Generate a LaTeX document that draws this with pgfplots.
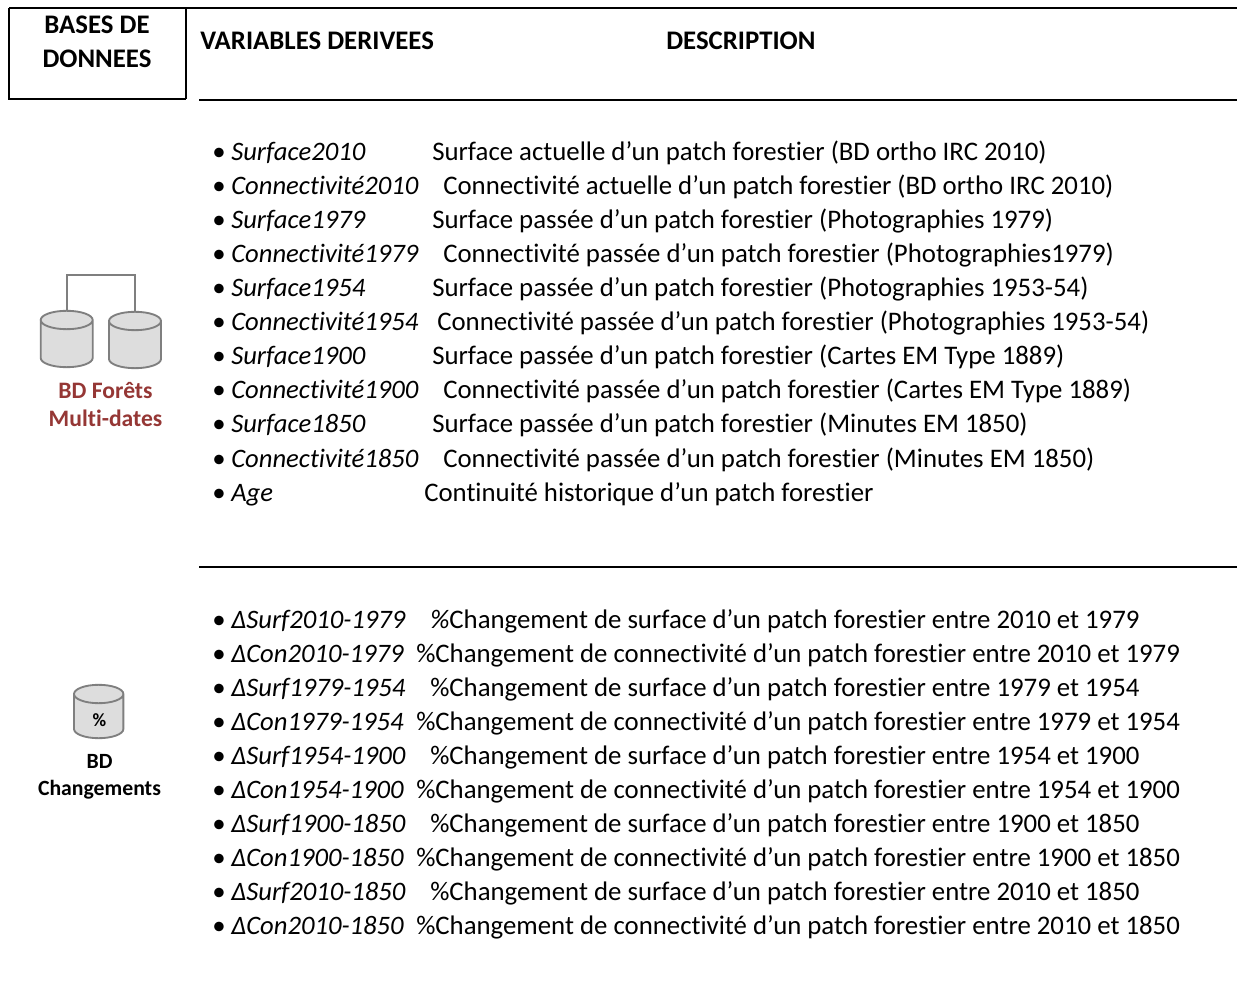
\documentclass[border=0pt]{standalone}
\usepackage{pgfplots}
\pgfplotsset{compat=1.18}
\usepackage{fontspec}
\setmainfont[Ligatures=NoCommon]{Carlito}
\definecolor{dbred}{HTML}{953735}
\definecolor{cylfill}{HTML}{DDDDDD}
\definecolor{cylline}{HTML}{7F7F7F}
\newcommand{\fs}{\fontsize{20.1}{22}\selectfont}
\newcommand{\row}[4]{% y, name, descx, desc
  \node[anchor=base west,inner sep=0pt] at (axis cs:212,#1) {\fs •};
  \node[anchor=base west,inner sep=0pt] at (axis cs:231,#1) {\fontsize{19.97}{22}\selectfont\itshape #2};
  \node[anchor=base west,inner sep=0pt] at (axis cs:#3,#1) {\fs #4};}
\newcommand{\cyl}[4]{% xleft, ycentre top, ycentre bottom, rx in px
  \draw[draw=cylline,fill=cylfill,line width=1.4pt]
    (axis cs:#1,#2) -- (axis cs:#1,#3)
    arc[start angle=180,end angle=360,x radius=#4*0.75pt,y radius=6.9pt]
    -- (axis cs:#1+2*#4,#2)
    arc[start angle=0,end angle=180,x radius=#4*0.75pt,y radius=6.9pt]
    arc[start angle=180,end angle=360,x radius=#4*0.75pt,y radius=6.9pt];}
\begin{document}
\begin{tikzpicture}
\path[use as bounding box] (0,0) rectangle (927.75pt,745.5pt);
\begin{axis}[at={(0,0)},anchor=south west,scale only axis,width=927.75pt,height=745.5pt,
  xmin=0,xmax=1237,ymin=0,ymax=994,y dir=reverse,axis lines=none,clip=false]
\addplot[black,line width=1.5pt] coordinates {(9,8) (1237,8)};
\addplot[black,line width=1.5pt] coordinates {(9,8) (9,99.5) (186,99.5)};
\addplot[black,line width=1.3pt] coordinates {(186,8) (186,99.5)};
\addplot[black,line width=1.5pt] coordinates {(199,100) (1237,100)};
\addplot[black,line width=1.5pt] coordinates {(199,567) (1237,567)};
\addplot[cylline,line width=1.5pt] coordinates {(66.5,312) (66.5,274.7) (135.3,274.7) (135.3,313)};
\node[inner sep=0pt,anchor=base] at (axis cs:97,34) {\fs\bfseries BASES DE};
\node[inner sep=0pt,anchor=base] at (axis cs:97,68) {\fs\bfseries DONNEES};
\node[anchor=base west,inner sep=0pt] at (axis cs:200,50) {\fs\bfseries VARIABLES DERIVEES};
\node[anchor=base west,inner sep=0pt] at (axis cs:666,50) {\fs\bfseries DESCRIPTION};
\row{161}{Surface2010}{432}{Surface actuelle d’un patch forestier (BD ortho IRC 2010)}
\row{195}{Connectivité2010}{443}{Connectivité actuelle d’un patch forestier (BD ortho IRC 2010)}
\row{229}{Surface1979}{432}{Surface passée d’un patch forestier (Photographies 1979)}
\row{263}{Connectivité1979}{443}{Connectivité passée d’un patch forestier (Photographies1979)}
\row{297}{Surface1954}{432}{Surface passée d’un patch forestier (Photographies 1953-54)}
\row{331}{Connectivité1954}{437}{Connectivité passée d’un patch forestier (Photographies 1953-54)}
\row{365}{Surface1900}{432}{Surface passée d’un patch forestier (Cartes EM Type 1889)}
\row{399}{Connectivité1900}{443}{Connectivité passée d’un patch forestier (Cartes EM Type 1889)}
\row{433}{Surface1850}{432}{Surface passée d’un patch forestier (Minutes EM 1850)}
\row{467}{Connectivité1850}{443}{Connectivité passée d’un patch forestier (Minutes EM 1850)}
\row{501}{Age}{424}{Continuité historique d’un patch forestier}
\row{628}{ΔSurf2010-1979}{430}{{\itshape\%}Changement de surface d’un patch forestier entre 2010 et 1979}
\row{662}{ΔCon2010-1979}{416}{\%Changement de connectivité d’un patch forestier entre 2010 et 1979}
\row{696}{ΔSurf1979-1954}{430}{\%Changement de surface d’un patch forestier entre 1979 et 1954}
\row{730}{ΔCon1979-1954}{416}{\%Changement de connectivité d’un patch forestier entre 1979 et 1954}
\row{764}{ΔSurf1954-1900}{430}{\%Changement de surface d’un patch forestier entre 1954 et 1900}
\row{798}{ΔCon1954-1900}{416}{\%Changement de connectivité d’un patch forestier entre 1954 et 1900}
\row{832}{ΔSurf1900-1850}{430}{\%Changement de surface d’un patch forestier entre 1900 et 1850}
\row{866}{ΔCon1900-1850}{416}{\%Changement de connectivité d’un patch forestier entre 1900 et 1850}
\row{900}{ΔSurf2010-1850}{430}{\%Changement de surface d’un patch forestier entre 2010 et 1850}
\row{934}{ΔCon2010-1850}{416}{\%Changement de connectivité d’un patch forestier entre 2010 et 1850}
\cyl{40.7}{320}{358}{26}
\cyl{109}{321}{359}{26}
\cyl{74}{694}{729}{24.7}
\node[inner sep=0pt,anchor=base] at (axis cs:99.5,726) {\fontsize{14}{16}\selectfont\bfseries\%};
\node[inner sep=0pt,anchor=base,text=dbred] at (axis cs:105.5,399) {\fontsize{17.7}{20}\selectfont\bfseries BD Forêts};
\node[inner sep=0pt,anchor=base,text=dbred] at (axis cs:105.5,427) {\fontsize{17.7}{20}\selectfont\bfseries Multi-dates};
\node[inner sep=0pt,anchor=base] at (axis cs:99.5,768) {\fontsize{16.3}{18}\selectfont\bfseries BD};
\node[inner sep=0pt,anchor=base] at (axis cs:99.5,795) {\fontsize{16.3}{18}\selectfont\bfseries Changements};
\end{axis}
\end{tikzpicture}
\end{document}
